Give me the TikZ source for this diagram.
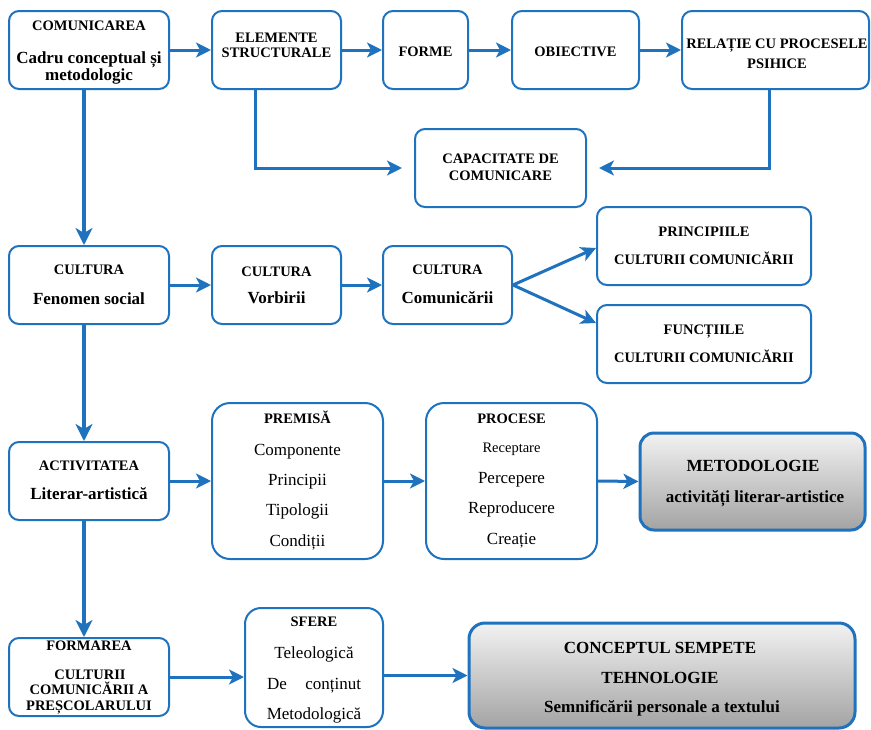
\documentclass[tikz,border=0pt]{standalone}
\usepackage{fontspec}
\setmainfont{Liberation Serif}
\usetikzlibrary{arrows.meta,calc}
\definecolor{myblue}{RGB}{31,114,189}
\begin{document}
\begin{tikzpicture}[x=1pt,y=-1pt,
  box/.style={draw=myblue, line width=2pt, rounded corners=10pt, inner sep=0pt, fill=white},
  bigbox/.style={box, rounded corners=18pt},
  gbox/.style={draw=myblue, line width=3pt, rounded corners=14pt, inner sep=0pt, top color=white!95!black, bottom color=white!64!black},
  cb/.style={font=\fontsize{14.5}{17}\selectfont\bfseries, anchor=base, inner sep=0pt},
  lb/.style={font=\fontsize{17}{20}\selectfont\bfseries, anchor=base, inner sep=0pt},
  lr/.style={font=\fontsize{17}{20}\selectfont, anchor=base, inner sep=0pt},
  sr/.style={font=\fontsize{14.5}{17}\selectfont, anchor=base, inner sep=0pt},
  arr/.style={draw=myblue, line width=3pt, -{Stealth[length=15pt,width=15pt,inset=4pt]}},
  arrthick/.style={draw=myblue, line width=4pt, -{Stealth[length=17pt,width=17pt,inset=5pt]}}]
\useasboundingbox (0,0) rectangle (871,729);
% boxes
\node[box, minimum width=160pt, minimum height=78pt] (b1) at (89,50) {};
\node[box, minimum width=129pt, minimum height=78pt] (b2) at (276.5,50) {};
\node[box, minimum width=85pt, minimum height=78pt] (b3) at (425.5,50) {};
\node[box, minimum width=127pt, minimum height=78pt] (b4) at (575.5,50) {};
\node[box, minimum width=187pt, minimum height=78pt] (b5) at (775.5,50) {};
\node[box, minimum width=171pt, minimum height=78pt] (b6) at (500.5,168) {};
\node[box, minimum width=160pt, minimum height=78pt] (b7) at (89,285) {};
\node[box, minimum width=129pt, minimum height=78pt] (b8) at (276.5,285) {};
\node[box, minimum width=129pt, minimum height=78pt] (b9) at (447.5,285) {};
\node[box, minimum width=214pt, minimum height=78pt] (b10) at (704,246) {};
\node[box, minimum width=214pt, minimum height=78pt] (b11) at (704,344) {};
\node[box, minimum width=160pt, minimum height=78pt] (b12) at (89,481) {};
\node[bigbox, minimum width=171pt, minimum height=156pt] (b13) at (297.5,481) {};
\node[bigbox, minimum width=171pt, minimum height=156pt] (b14) at (511.5,481) {};
\node[gbox, minimum width=225pt, minimum height=97pt] (b15) at (752.5,481.5) {};
\node[box, minimum width=160pt, minimum height=78pt] (b16) at (89,677) {};
\node[bigbox, rounded corners=16pt, minimum width=138pt, minimum height=119pt] (b17) at (314,667.5) {};
\node[gbox, rounded corners=16pt, minimum width=386pt, minimum height=105pt] (b18) at (662,675.5) {};
% texts
\node[cb] (t1a) at (89,30) {COMUNICAREA};
\node[lb] (t1b) at (89,63) {Cadru conceptual și};
\node[lb] (t1c) at (89,80) {metodologic};
\node[cb] (t2a) at (276.5,42) {ELEMENTE};
\node[cb] (t2b) at (276.5,57) {STRUCTURALE};
\node[cb] (t3a) at (425.5,56) {FORME};
\node[cb] (t4a) at (575.5,56) {OBIECTIVE};
\node[cb] (t5a) at (777,48) {RELAȚIE CU PROCESELE};
\node[cb] (t5b) at (777,68) {PSIHICE};
\node[cb] (t6a) at (500.5,163) {CAPACITATE DE};
\node[cb] (t6b) at (500.5,180) {COMUNICARE};
\node[cb] (t7a) at (89,274) {CULTURA};
\node[lb] (t7b) at (89,304) {Fenomen social};
\node[cb] (t8a) at (276.5,276) {CULTURA};
\node[lb] (t8b) at (276.5,303) {Vorbirii};
\node[cb] (t9a) at (447.5,274) {CULTURA};
\node[lb] (t9b) at (447.5,303) {Comunicării};
\node[cb] (t10a) at (704,236) {PRINCIPIILE};
\node[cb] (t10b) at (704,264) {CULTURII COMUNICĂRII};
\node[cb] (t11a) at (704,334) {FUNCȚIILE};
\node[cb] (t11b) at (704,362) {CULTURII COMUNICĂRII};
\node[cb] (t12a) at (89,470) {ACTIVITATEA};
\node[lb] (t12b) at (89,499) {Literar-artistică};
\node[cb] (t13a) at (297.5,423) {PREMISĂ};
\node[lr] (t13b) at (297.5,455) {Componente};
\node[lr] (t13c) at (297.5,485) {Principii};
\node[lr] (t13d) at (297.5,515) {Tipologii};
\node[lr] (t13e) at (297.5,546) {Condiții};
\node[cb] (t14a) at (511.5,423) {PROCESE};
\node[sr] (t14b) at (511.5,452) {Receptare};
\node[lr] (t14c) at (511.5,483) {Percepere};
\node[lr] (t14d) at (511.5,513) {Reproducere};
\node[lr] (t14e) at (511.5,544) {Creație};
\node[lb] (t15a) at (753,471) {METODOLOGIE};
\node[lb] (t15b) at (755,502) {activități literar-artistice};
\node[cb] (t16a) at (89,650) {FORMAREA};
\node[cb] (t16b) at (90,679) {CULTURII};
\node[cb] (t16c) at (89,694) {COMUNICĂRII A};
\node[cb] (t16d) at (89,710) {PREȘCOLARULUI};
\node[cb] (t17a) at (314,626) {SFERE};
\node[lr] (t17b) at (314,658) {Teleologică};
\node[lr] (t17c) at (314,689) {\makebox[94pt][s]{De\hfill conținut}};
\node[lr] (t17d) at (314,719) {Metodologică};
\node[lb] (t18a) at (660,653) {CONCEPTUL SEMPETE};
\node[lb] (t18b) at (660,683) {TEHNOLOGIE};
\node[lb] (t18c) at (662,712) {Semnificării personale a textului};
% connectors
\draw[arrthick] ([xshift=-5pt]b1.south) -- ([xshift=-5pt]b7.north);
\draw[arr] (b1.east) -- (b2.west);
\draw[arr] (b2.east) -- (b3.west);
\draw[arr] (b3.east) -- (b4.west);
\draw[arr] (b4.east) -- (b5.west);
\draw[arr, shorten >=12pt] ([xshift=-21.5pt]b2.south) |- (b6.west);
\draw[arr, shorten >=12pt] ([xshift=-6.5pt]b5.south) |- (b6.east);
\draw[arr] (b7.east) -- (b8.west);
\draw[arr] (b8.east) -- (b9.west);
\draw[arr] (b9.east) -- ([yshift=-2pt]b10.west);
\draw[arr] (b9.east) -- ([yshift=21pt]b11.west);
\draw[arrthick] ([xshift=-5pt]b7.south) -- ([xshift=-5pt]b12.north);
\draw[arr] (b12.east) -- (b13.west);
\draw[arr] (b13.east) -- (b14.west);
\draw[arr] (b14.east) -- (b15.west);
\draw[arrthick] ([xshift=-5pt]b12.south) -- ([xshift=-5pt]b16.north);
\draw[arr] (b16.east) -- (b16.east -| b17.west);
\draw[arr] (b17.east |- b18.west) -- (b18.west);
\end{tikzpicture}
\end{document}
